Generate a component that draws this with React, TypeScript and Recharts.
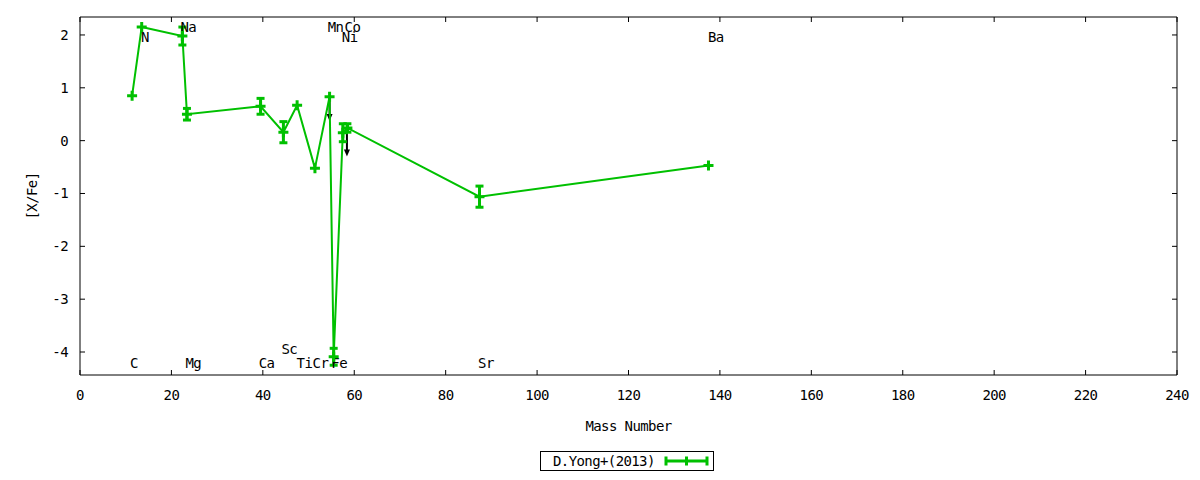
import React from 'react';
import { ComposedChart, Line, Scatter, XAxis, YAxis, ErrorBar, ReferenceLine, Legend } from 'recharts';

// abundances vs mass number
const elements = ['C', 'N', 'Na', 'Mg', 'Ca', 'Sc', 'Ti', 'Cr', 'Mn', 'Fe', 'Co', 'Ni', 'Sr', 'Ba'];
const masses = [11.4, 13.5, 22.4, 23.4, 39.5, 44.5, 47.5, 51.4, 54.6, 55.5, 57.5, 58.5, 87.4, 137.5];
const xfe = [0.85, 2.15, 1.98, 0.5, 0.65, 0.16, 0.67, -0.52, 0.83, -4.09, 0.15, 0.24, -1.06, -0.47];
const xfeErr = [0, 0, 0.17, 0.11, 0.15, 0.2, 0, 0, 0, 0.16, 0.17, 0.08, 0.2, 0];

// element name labels
const labelNames = ['C', 'N', 'Na', 'Mg', 'Ca', 'Sc', 'Ti', 'Cr', 'Mn', 'Fe', 'Ni', 'Co', 'Sr', 'Ba'];
const labelMass = [11.8, 14.2, 23.7, 24.8, 40.8, 45.8, 49.1, 52.6, 55.9, 56.7, 59.0, 59.6, 88.8, 139.1];
const labelPos = [-4.2, 1.96, 2.15, -4.2, -4.2, -3.94, -4.2, -4.2, 2.15, -4.2, 1.96, 2.15, -4.2, 1.96];

// upper limits (arrows)
const limitMass = [54.6, 58.4];
const limitFrom = [0.83, 0.24];
const limitTo = [0.37, -0.3];

const xTicks = [0, 20, 40, 60, 80, 100, 120, 140, 160, 180, 200, 220, 240];
const yTicks = [-4, -3, -2, -1, 0, 1, 2];

const seriesName = 'D.Yong+(2013)';
const GREEN = '#00c000';
const FONT = '"DejaVu Sans Mono", monospace';
const FS = 14;
const LS = -0.6;

const points = masses.map((m, i) => ({ mass: m, val: xfe[i], err: xfeErr[i], el: elements[i] }));
const labels = labelNames.map((n, i) => ({ mass: labelMass[i], pos: labelPos[i], name: n }));

const tickStyle = { fill: '#000', fontSize: FS, fontFamily: FONT, letterSpacing: LS };

const PlusDot = (props: any) => {
  const { cx, cy, index } = props;
  if (cx == null || cy == null) return null;
  return (
    <path
      key={`dot-${index}`}
      d={`M${cx - 5},${cy}H${cx + 5}M${cx},${cy - 5}V${cy + 5}`}
      stroke={GREEN}
      strokeWidth={3}
      fill="none"
    />
  );
};

const LabelText = (props: any) => {
  const { cx, cy, payload } = props;
  return (
    <text x={cx} y={cy} dy="0.36em" textAnchor="middle" fontSize={FS} letterSpacing={LS} fontFamily={FONT} fill="#000">
      {payload.name}
    </text>
  );
};

const Arrow = (props: any) => {
  const { x1, y1, x2, y2 } = props;
  return (
    <g>
      <line x1={x1} y1={y1} x2={x2} y2={y2 - 5} stroke="#000" strokeWidth={2} />
      <polygon points={`${x2 - 3},${y2 - 7} ${x2 + 3},${y2 - 7} ${x2},${y2}`} fill="#000" />
    </g>
  );
};

const LegendBox = (props: any) => {
  const item = (props.payload || []).find((p: any) => p.type !== 'none');
  const color = item?.color || GREEN;
  return (
    <svg width={174} height={21} style={{ display: 'block' }}>
      <rect x={0.5} y={0.5} width={173} height={19} fill="#fff" stroke="#000" strokeWidth={1} />
      <text x={13} y={10} dy="0.36em" fontSize={FS} letterSpacing={LS} fontFamily={FONT} fill="#000">
        {item?.value || seriesName}
      </text>
      <path d="M126,10H167" stroke={color} strokeWidth={3} />
      <path d="M126,5.5V14.5M146.5,5.5V14.5M167,5.5V14.5" stroke={color} strokeWidth={3} />
    </svg>
  );
};

const YLabel = (props: any) => {
  const { viewBox } = props;
  const x = viewBox.x + 24;
  const y = viewBox.y + viewBox.height / 2;
  return (
    <text x={x} y={y} dy="0.36em" transform={`rotate(-90, ${x}, ${y})`} textAnchor="middle" fontSize={FS} letterSpacing={LS} fontFamily={FONT} fill="#000">
      [X/Fe]
    </text>
  );
};

export default function App() {
  return (
    <div style={{ marginTop: -8, marginBottom: -8, fontFamily: FONT, background: '#fff' }}>
      <ComposedChart width={1184} height={480} margin={{ top: 16, right: 14, left: 0, bottom: 0 }}>
        <XAxis
          dataKey="mass"
          type="number"
          domain={[0, 240]}
          ticks={xTicks}
          allowDataOverflow
          height={105}
          stroke="#000"
          tickSize={-5}
          tickMargin={20}
          tick={tickStyle}
          label={{ value: 'Mass Number', position: 'insideBottom', offset: 49, fill: '#000', fontSize: FS, letterSpacing: LS, fontFamily: FONT }}
        />
        <XAxis
          xAxisId="top"
          orientation="top"
          dataKey="mass"
          type="number"
          domain={[0, 240]}
          ticks={xTicks}
          allowDataOverflow
          height={1}
          stroke="#000"
          tickSize={-5}
          tickFormatter={() => ''}
        />
        <YAxis
          type="number"
          domain={[-4.435, 2.34]}
          ticks={yTicks}
          allowDataOverflow
          width={72}
          stroke="#000"
          tickSize={-5}
          tickMargin={17}
          tick={tickStyle}
          label={<YLabel />}
        />
        <YAxis
          yAxisId="right"
          orientation="right"
          type="number"
          domain={[-4.435, 2.34]}
          ticks={yTicks}
          allowDataOverflow
          width={1}
          stroke="#000"
          tickSize={-5}
          tickFormatter={() => ''}
        />
        <Scatter
          data={labels}
          dataKey="pos"
          xAxisId="top"
          yAxisId="right"
          shape={<LabelText />}
          legendType="none"
          isAnimationActive={false}
        />
        {limitMass.map((m, i) => (
          <ReferenceLine
            key={`lim-${i}`}
            segment={[
              { x: m, y: limitFrom[i] },
              { x: m, y: limitTo[i] },
            ]}
            shape={<Arrow />}
            ifOverflow="visible"
          />
        ))}
        <Line
          data={points}
          dataKey="val"
          name={seriesName}
          stroke={GREEN}
          strokeWidth={2}
          dot={<PlusDot />}
          activeDot={false}
          isAnimationActive={false}
        >
          <ErrorBar dataKey="err" direction="y" width={4} strokeWidth={3} stroke={GREEN} />
        </Line>
        <Legend
          verticalAlign="middle"
          align="center"
          layout="horizontal"
          content={<LegendBox />}
          wrapperStyle={{ top: 451, left: 532, width: 174, height: 21 }}
        />
      </ComposedChart>
    </div>
  );
}
